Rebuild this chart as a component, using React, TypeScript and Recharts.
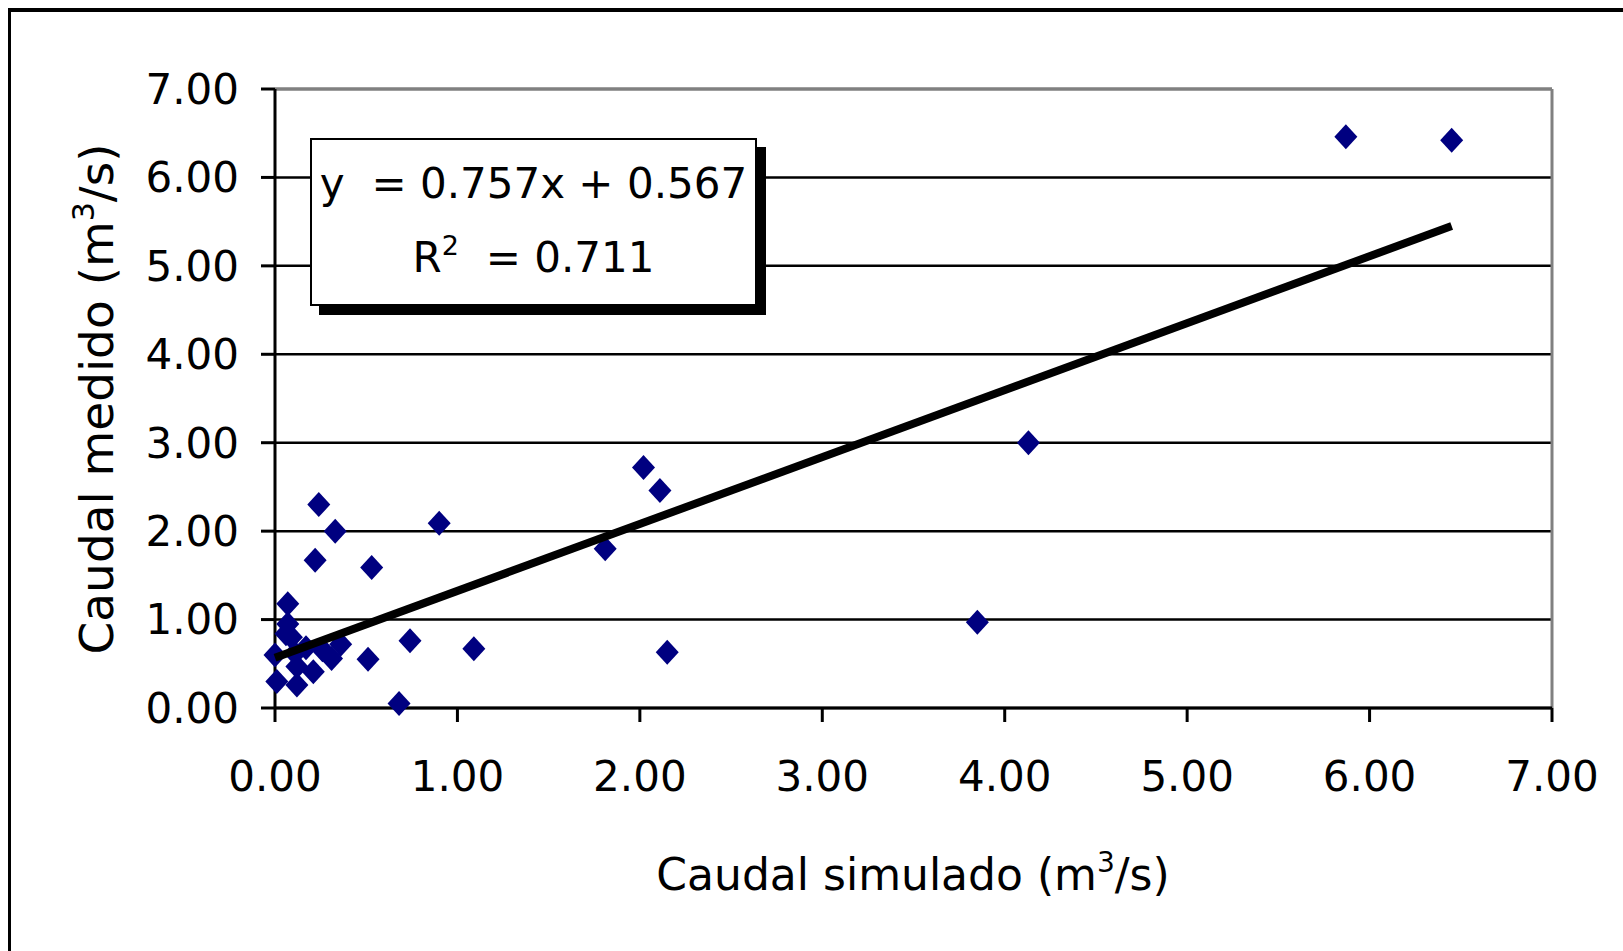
import React from 'react'
import {
  ScatterChart, Scatter, XAxis, YAxis, CartesianGrid, ReferenceLine,
} from 'recharts'

const FONT = '"DejaVu Sans", Verdana, sans-serif'

// caudal simulado (x) / caudal medido (y), m3/s
const simulado = [
  0.00, 0.01, 0.07, 0.07, 0.06, 0.09, 0.11, 0.12, 0.12, 0.17,
  0.21, 0.22, 0.24, 0.26, 0.31, 0.33, 0.36, 0.51, 0.53, 0.68,
  0.74, 0.90, 1.09, 1.81, 2.02, 2.11, 2.15, 3.85, 4.13, 5.87, 6.45,
]
const medido = [
  0.60, 0.30, 1.18, 0.95, 0.84, 0.80, 0.62, 0.47, 0.26, 0.68,
  0.41, 1.67, 2.30, 0.66, 0.56, 2.00, 0.72, 0.55, 1.59, 0.05,
  0.76, 2.09, 0.67, 1.80, 2.72, 2.46, 0.63, 0.97, 3.00, 6.46, 6.42,
]
const ticks = [0, 1, 2, 3, 4, 5, 6, 7]

// linea de tendencia: y = 0.757x + 0.567
const pendiente = 0.757
const intercepto = 0.567
const r2 = 0.711

const puntos = simulado.map((s, i) => ({ sim: s, med: medido[i] }))
const xMin = Math.min(...simulado)
const xMax = Math.max(...simulado)
const tendencia = [
  { sim: xMin, med: pendiente * xMin + intercepto },
  { sim: xMax, med: pendiente * xMax + intercepto },
]

const Rombo = (props: any) => {
  const { cx, cy } = props
  if (cx == null || cy == null) return <g />
  return (
    <path
      d={`M${cx},${cy - 12.5} L${cx + 11.5},${cy} L${cx},${cy + 12.5} L${cx - 11.5},${cy} Z`}
      fill="#000080"
    />
  )
}

const TituloX = () => (
  <text x={913} y={890} textAnchor="middle" fontSize={44} fontFamily={FONT} fill="#000">
    Caudal simulado (m<tspan dy={-18} fontSize={28}>3</tspan>
    <tspan dy={18}>/s)</tspan>
  </text>
)

const TituloY = () => (
  <text
    transform="translate(113,399) rotate(-90)"
    textAnchor="middle"
    fontSize={47}
    fontFamily={FONT}
    fill="#000"
  >
    Caudal medido (m<tspan dy={-19} fontSize={30}>3</tspan>
    <tspan dy={19}>/s)</tspan>
  </text>
)

export default function App() {
  const tick = { fill: '#000', fontSize: 42, fontFamily: FONT }
  return (
    <div
      style={{
        position: 'absolute', left: 0, top: 0, width: 1623, height: 951,
        overflow: 'hidden', background: '#fff', fontFamily: FONT,
      }}
    >
      <div
        style={{
          position: 'absolute', left: 8, top: 8, width: 1700, height: 1000,
          borderTop: '4px solid #000', borderLeft: '3px solid #000',
        }}
      />
      <div style={{ position: 'absolute', left: 0, top: 0 }}>
        <ScatterChart width={1623} height={951} margin={{ top: 89, right: 71, bottom: 143, left: 0 }}>
          <CartesianGrid vertical={false} stroke="#000" strokeWidth={2.5} />
          <ReferenceLine y={7} stroke="#808080" strokeWidth={3} />
          <ReferenceLine x={7} stroke="#808080" strokeWidth={3} />
          <XAxis
            type="number"
            dataKey="sim"
            domain={[0, 7]}
            ticks={ticks}
            tickFormatter={(v: number) => v.toFixed(2)}
            height={100}
            tick={tick}
            tickSize={14}
            tickMargin={39}
            axisLine={{ stroke: '#000', strokeWidth: 3 }}
            tickLine={{ stroke: '#000', strokeWidth: 3 }}
            label={<TituloX />}
          />
          <YAxis
            type="number"
            dataKey="med"
            domain={[0, 7]}
            ticks={ticks}
            tickFormatter={(v: number) => v.toFixed(2)}
            width={275}
            tick={tick}
            tickSize={14}
            tickMargin={22}
            axisLine={{ stroke: '#000', strokeWidth: 3 }}
            tickLine={{ stroke: '#000', strokeWidth: 3 }}
            label={<TituloY />}
          />
          <Scatter data={puntos} shape={<Rombo />} isAnimationActive={false} />
          <Scatter
            data={tendencia}
            shape={() => <g />}
            fill="#000"
            stroke="#000"
            strokeWidth={8}
            line={{ stroke: '#000', strokeWidth: 8 }}
            isAnimationActive={false}
          />
        </ScatterChart>
      </div>
      <div
        style={{
          position: 'absolute', left: 310, top: 138, width: 447, height: 168,
          boxSizing: 'border-box', border: '2.5px solid #000', background: '#fff',
          boxShadow: '9px 9px 0 #000', textAlign: 'center', fontSize: 42,
          lineHeight: '74px', paddingTop: 7, color: '#000', whiteSpace: 'pre',
        }}
      >
        <div>{`y  = ${pendiente.toFixed(3)}x + ${intercepto.toFixed(3)}`}</div>
        <div>
          R<sup style={{ fontSize: 27, lineHeight: 0, verticalAlign: 17 }}>2</sup>
          {`  = ${r2.toFixed(3)}`}
        </div>
      </div>
    </div>
  )
}
